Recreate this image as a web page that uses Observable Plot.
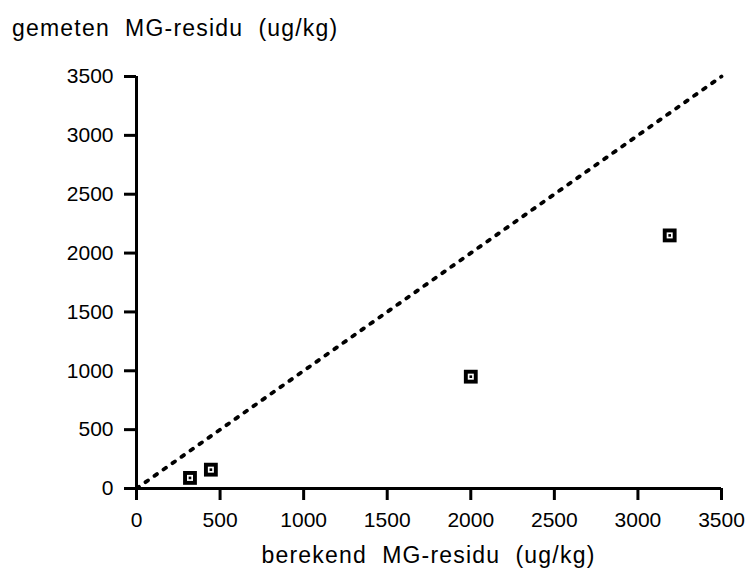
<!DOCTYPE html>
<html>
<head>
<meta charset="utf-8">
<script src="https://cdn.jsdelivr.net/npm/d3@7"></script>
<script src="https://cdn.jsdelivr.net/npm/@observablehq/plot@0.6"></script>
<style>
  html, body { margin: 0; padding: 0; background: #fff; }
  body { width: 754px; height: 572px; overflow: hidden; font-family: "Liberation Sans", Arial, sans-serif; color: #000; }
  #title { height: 50px; box-sizing: border-box; padding: 15px 0 0 12px; font-size: 23px; line-height: 26px; letter-spacing: 1.2px; white-space: pre; }
  #xlabel { margin-left: 136px; width: 585px; box-sizing: border-box; padding-top: 7px; font-size: 23px; line-height: 26px; letter-spacing: 1.2px; white-space: pre; text-align: center; }
  #chart svg { display: block; }
  #chart svg text { font-size: 21px !important; font-family: "Liberation Sans", Arial, sans-serif !important; }
  #chart svg g[aria-label$="tick"], #chart svg g[aria-label$="tick"] path { stroke-width: 3px !important; }
</style>
</head>
<body>
<div id="title">gemeten  MG-residu  (ug/kg)</div>
<div id="chart"></div>
<div id="xlabel">berekend  MG-residu  (ug/kg)</div>
<script>
// Data
const berekend = [320, 445, 2000, 3190];   // x: calculated residue (ug/kg)
const gemeten = [90, 160, 950, 2150];      // y: measured residue (ug/kg)
const xTicks = [0, 500, 1000, 1500, 2000, 2500, 3000, 3500];
const yTicks = [0, 500, 1000, 1500, 2000, 2500, 3000, 3500];
const diagonal = [0, 3500];                // y = x reference line

const points = berekend.map((b, i) => ({ berekend: b, gemeten: gemeten[i] }));

const chart = Plot.plot({
  width: 754,
  height: 485,
  marginLeft: 136,
  marginRight: 33,
  marginTop: 26,
  marginBottom: 47,
  x: { domain: [0, 3500] },
  y: { domain: [0, 3500] },
  style: { fontFamily: "Liberation Sans, Arial, sans-serif", fontSize: "21px", color: "#000", background: "#fff" },
  marks: [
    Plot.axisX({ ticks: xTicks, tickSize: 12, tickPadding: 12, strokeWidth: 3, label: null, fontSize: 21, tickFormat: d => String(d) }),
    Plot.axisY({ ticks: yTicks, tickSize: 12, tickPadding: 11, strokeWidth: 3, label: null, fontSize: 21, tickFormat: d => String(d) }),
    Plot.ruleX([0], { strokeWidth: 3, stroke: "#000" }),
    Plot.ruleY([0], { strokeWidth: 3, stroke: "#000" }),
    Plot.line(diagonal, { x: d => d, y: d => d, stroke: "#000", strokeWidth: 3.8, strokeLinecap: "round", strokeDasharray: "3,8" }),
    Plot.dot(points, { x: "berekend", y: "gemeten", symbol: "square", r: 7.8, fill: "#000", stroke: "none" }),
    Plot.dot(points, { x: "berekend", y: "gemeten", symbol: "square", r: 3.4, fill: "#fff", stroke: "none" }),
    Plot.dot(points, { x: "berekend", y: "gemeten", symbol: "square", r: 1.5, fill: "#000", stroke: "none" })
  ]
});
chart.querySelectorAll('g[aria-label$="tick"]').forEach(g => g.setAttribute("stroke-width", "3"));
document.getElementById("chart").appendChild(chart);
</script>
</body>
</html>
